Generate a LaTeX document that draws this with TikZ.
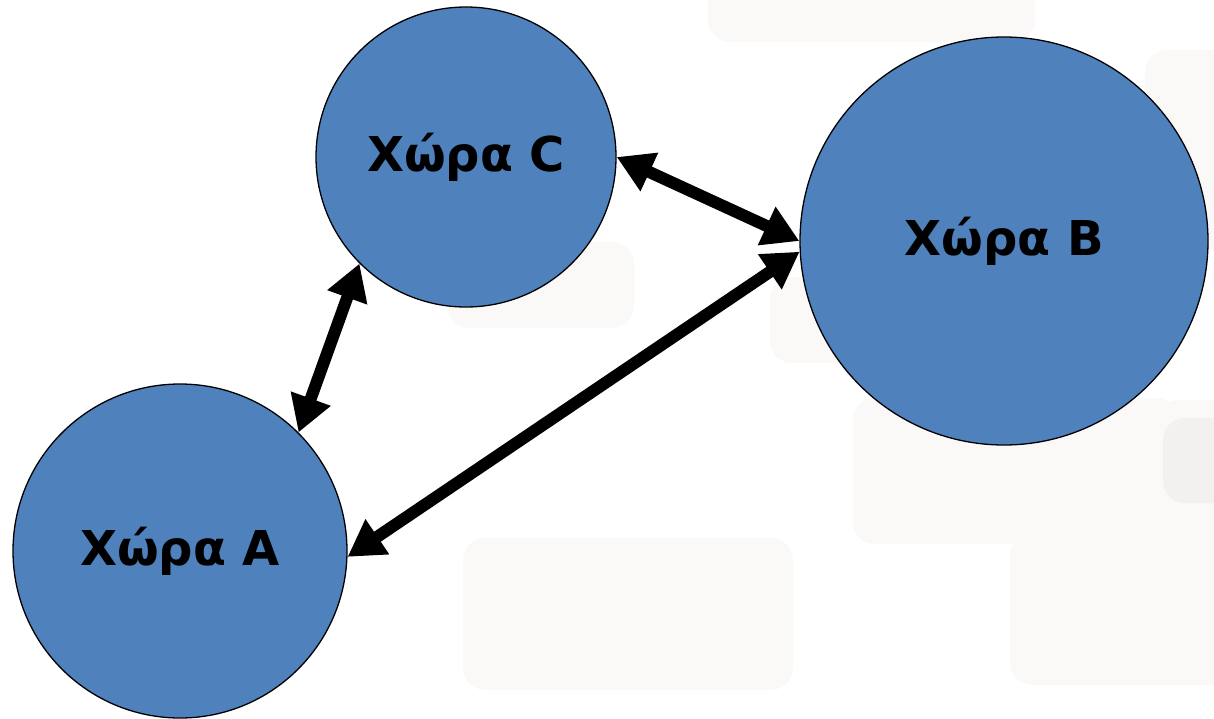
\documentclass[tikz,border=0pt]{standalone}
\usepackage{fontspec}
\setmainfont{DejaVu Sans}
\usetikzlibrary{arrows.meta}
\definecolor{nodeblue}{HTML}{4F81BD}
\definecolor{bgpale}{HTML}{FAF9F8}
\definecolor{bggrey}{HTML}{F2F1F0}
\tikzset{
  country/.style={circle, fill=nodeblue, draw=black, line width=1.3pt, inner sep=0pt,
    font=\bfseries\fontsize{48}{56}\selectfont, text=black},
  link/.style={line width=12pt, {Triangle[length=36pt,width=40pt]}-{Triangle[length=36pt,width=40pt]}},
  bgbox/.style={fill=bgpale, rounded corners=22pt},
  bgboxdark/.style={fill=bggrey, rounded corners=22pt}
}
\begin{document}
\begin{tikzpicture}[x=1pt,y=-1pt]
\useasboundingbox (0,0) rectangle (1214,718);
% faint background boxes
\fill[bgbox] (708,-30) rectangle (1035,42);
\fill[bgbox] (1145,50) rectangle (1250,250);
\fill[bgbox] (447,242) rectangle (634,328);
\fill[bgbox] (770,277) rectangle (860,363);
\fill[bgbox] (853,398) rectangle (1178,544);
\fill[bgbox] (1157,400) rectangle (1250,578);
\fill[bgboxdark] (1163,418) rectangle (1250,503);
\fill[bgbox] (1010,533) rectangle (1250,685);
\fill[bgbox] (463,538) rectangle (793,690);
% countries
\node[country, minimum size=300pt] (C) at (466,157) {Χώρα C};
\node[country, minimum size=408pt] (B) at (1004,241) {Χώρα B};
\node[country, minimum size=334pt] (A) at (180,551) {Χώρα A};
% links
\draw[link] (C.east) -- (B.west);
\draw[link] (A.358) -- (B.183);
\draw[link] (A.45) -- (C.225);
\end{tikzpicture}
\end{document}
